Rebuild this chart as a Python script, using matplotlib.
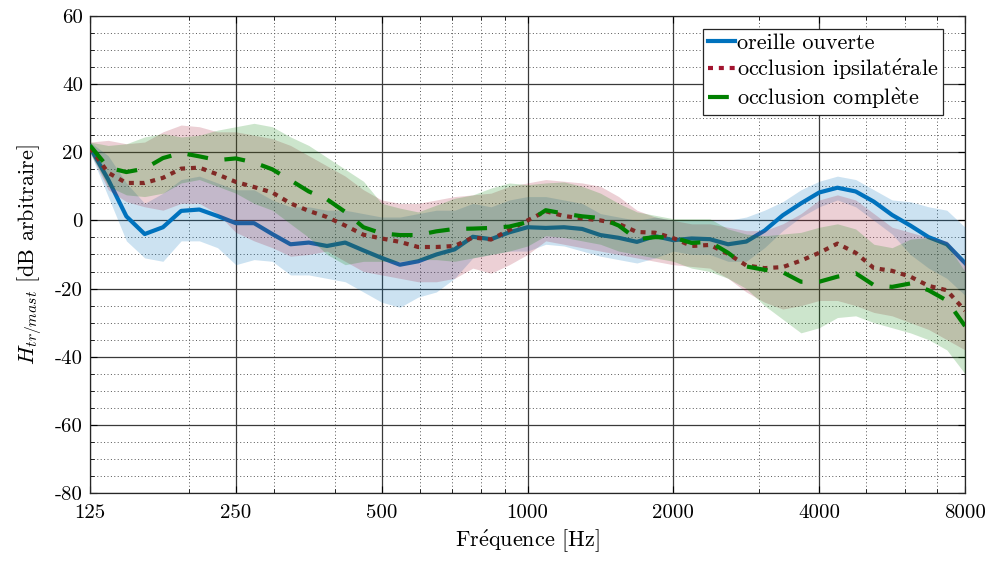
import numpy as np
import matplotlib
matplotlib.use('Agg')
import matplotlib.pyplot as plt
from matplotlib.ticker import FixedLocator, FixedFormatter, NullFormatter

plt.rcParams['font.family'] = ['cmr10', 'DejaVu Serif']
plt.rcParams['mathtext.fontset'] = 'cm'
plt.rcParams['axes.unicode_minus'] = False
plt.rcParams['axes.formatter.use_mathtext'] = True

# 1/8-octave frequencies [Hz]
freqs = [125, 136.3, 148.6, 162.1, 176.8, 192.8, 210.2, 229.2, 250, 272.6,
         297.3, 324.2, 353.6, 385.6, 420.4, 458.5, 500, 545.3, 594.6, 648.4,
         707.1, 771.1, 840.9, 917.0, 1000, 1090.5, 1189.2, 1296.8, 1414.2,
         1542.2, 1681.8, 1834.0, 2000, 2181.0, 2378.4, 2593.7, 2828.4, 3084.4,
         3363.6, 3668.0, 4000, 4362.0, 4756.8, 5187.4, 5656.9, 6168.8, 6727.2,
         7336.0, 8000]

# oreille ouverte
open_mean = [21.5, 12, 1.2, -4, -2, 2.8, 3.2, 1.3, -0.8, -0.8,
             -4, -7, -6.5, -7.5, -6.5, -8.8, -11, -13, -12, -10,
             -8.5, -4.8, -5.5, -3.5, -2, -2.2, -2, -2.5, -4.3, -5.1,
             -6.3, -4.6, -5.8, -5.3, -5.5, -7, -6.2, -3, 1.5, 5,
             8.2, 9.6, 8.5, 5.5, 1.6, -1.5, -4.9, -7, -12.5]
open_lo = [20, 7, -6, -11, -12, -6, -6, -8, -13, -11.5,
           -12, -16, -16, -17, -18, -21, -24, -25.5, -22.5, -21,
           -17, -11, -10, -9, -9, -7, -7.5, -9, -10.5, -11.5,
           -12.5, -11, -9, -10, -10, -12, -12, -8, -3, 1,
           4, 6, 4, 0, -4, -10, -14, -17, -22]
open_hi = [23, 19, 11, 5, 8, 12, 13, 11, 9, 9,
           6, 4, 4, 3, 3, 2, 1, 1, 2, 3,
           3, 5, 4, 6, 7, 7, 6, 5, 2, 1,
           0, 1, 0, 0, 0, 0, 1, 3, 5.5, 9,
           11.5, 13, 12, 9, 6, 5.5, 4, 3, -2]

# occlusion ipsilaterale
ipsi_mean = [21.3, 14, 11, 11, 12.5, 15.2, 15.5, 13.5, 11.3, 9.8,
             8.2, 5, 2.8, 1, -1.5, -4.2, -5.3, -6.3, -7.8, -7.8,
             -7.5, -5, -5.6, -2.8, 0, 2.7, 1.3, 0.6, 0, -1,
             -3.4, -3.6, -5.2, -7.5, -7.2, -9.8, -13.2, -14, -13.7, -11.8,
             -9.5, -6.8, -9.5, -14, -14.8, -16.5, -19.2, -20.5, -26.5]
ipsi_lo = [20, 9, 5.5, 4, 3, 5, 5, 2, -3.5, -6,
           -8, -10.5, -10, -9, -12, -15, -16, -17, -18, -18,
           -17, -14, -15.5, -13, -10, -6, -7, -8, -9, -10,
           -11, -12, -13, -13.5, -14, -17, -21, -24, -26, -25,
           -23.5, -23.5, -25, -27, -28, -30, -32, -35, -38]
ipsi_hi = [23, 23.5, 22.5, 23, 26, 28, 27.5, 26, 26, 25,
           24, 22, 19, 16, 13, 9, 6, 5, 5, 6,
           7, 7.5, 8, 10, 11, 12, 11.5, 11, 10, 7,
           3, 1, 0, -1, -1, -2, -3, -3, -1, 2,
           6, 7.5, 6, 2, -2, -3.5, -5, -6, -12]

# occlusion complete
full_mean = [22, 15.5, 14.2, 15.2, 18.3, 19.8, 18.8, 17.7, 18.2, 17,
             15, 11.8, 8.5, 6.2, 2.5, -2, -3.8, -4.3, -4.3, -3.2,
             -2.5, -2.4, -2.2, -1.8, -0.5, 3, 2, 1.2, 0.7, -1.5,
             -5.5, -4.9, -5, -6.6, -6.3, -9.5, -13.5, -14.5, -15.2, -18,
             -18, -16.5, -15.5, -19, -19.5, -18.5, -20.5, -23.5, -31]
full_lo = [20, 10, 7.5, 7, 8, 11, 12, 10, 8, 5,
           3, -1, -5, -10, -13, -12, -12, -12, -11.5, -11.5,
           -12, -11, -10, -9, -7.5, -4.5, -5, -6, -7, -9,
           -10, -11, -12, -14, -15, -17, -20, -25, -29, -33,
           -31.5, -28.5, -28, -30, -31.5, -33, -35, -38, -45]
full_hi = [23, 22, 22.5, 24.5, 25.5, 24.5, 25, 26.5, 27.5, 28.5,
           27.5, 24.5, 22, 18.5, 15, 11.5, 5, 3.6, 2.5, 4.5,
           6.5, 7.5, 9.5, 11, 10.5, 11, 11.3, 10, 8, 5,
           2.5, 1.5, 0.5, 0.5, 0.5, -2.5, -4, -4.5, -4, -3.5,
           -2, -1, -2.5, -7, -8, -5.5, -5, -7, -15]

labels = ['oreille ouverte',
          r'occlusion ipsilat$\mathrm{\acute{e}}$rale',
          r'occlusion compl$\mathrm{\grave{e}}$te']
colors = ['#0072BD', '#A2142F', '#008000']
styles = ['-', (0, (1.2, 1.4)), (0, (5.0, 4.0))]

fig = plt.figure(figsize=(9.91, 5.61), dpi=100)
ax = fig.add_axes([0.0908, 0.1212, 0.8830, 0.8503])

series = [(open_mean, open_lo, open_hi),
          (ipsi_mean, ipsi_lo, ipsi_hi),
          (full_mean, full_lo, full_hi)]
z = 3
for (m, lo, hi), c, ls, lab in zip(series, colors, styles, labels):
    ax.fill_between(freqs, lo, hi, color=c, alpha=0.2, linewidth=0, zorder=z)
    ax.plot(freqs, m, color=c, linestyle=ls, linewidth=3.0, label=lab, zorder=z + 1)
    z += 2

ax.set_xscale('log')
ax.set_xlim(125, 8000)
ax.set_ylim(-80, 60)

xt = [125, 250, 500, 1000, 2000, 4000, 8000]
ax.xaxis.set_major_locator(FixedLocator(xt))
ax.xaxis.set_major_formatter(FixedFormatter([str(v) for v in xt]))
ax.xaxis.set_minor_locator(FixedLocator([200, 300, 400, 600, 700, 800, 900,
                                         3000, 5000, 6000, 7000]))
ax.xaxis.set_minor_formatter(NullFormatter())

yt = list(range(-80, 61, 20))
ax.yaxis.set_major_locator(FixedLocator(yt))
ax.yaxis.set_major_formatter(FixedFormatter([str(v) for v in yt]))
ax.yaxis.set_minor_locator(FixedLocator([v for v in range(-80, 61, 5) if v % 20]))

ax.grid(True, which='major', color='#3a3a3a', linewidth=0.9, linestyle='-', zorder=0)
ax.grid(True, which='minor', color='#555555', linewidth=0.7, linestyle=(0, (1, 2.5)), zorder=0)
ax.set_axisbelow(True)

ax.tick_params(which='both', direction='in', top=True, right=True, labelsize=15)
ax.tick_params(which='major', length=5, width=0.8)
ax.tick_params(which='minor', length=3, width=0.6)
ax.tick_params(axis='x', which='major', pad=8)
ax.tick_params(axis='y', which='major', pad=5)
for s in ax.spines.values():
    s.set_linewidth(0.9)
    s.set_color('#262626')

ax.set_xlabel(r'Fr$\mathrm{\acute{e}}$quence [Hz]', fontsize=16, labelpad=4)
ax.set_ylabel(r'$H_{tr/mast}$ [dB arbitraire]', fontsize=16, labelpad=8)

leg = ax.legend(loc='upper right', bbox_to_anchor=(0.975, 0.973), borderaxespad=0,
                fontsize=16, handlelength=1.2, handletextpad=0.12,
                labelspacing=0.18, borderpad=0.2, fancybox=False,
                framealpha=1, edgecolor='#262626')
leg.get_frame().set_linewidth(0.9)
leg.set_zorder(20)

fig.savefig('out.png', dpi=100)
